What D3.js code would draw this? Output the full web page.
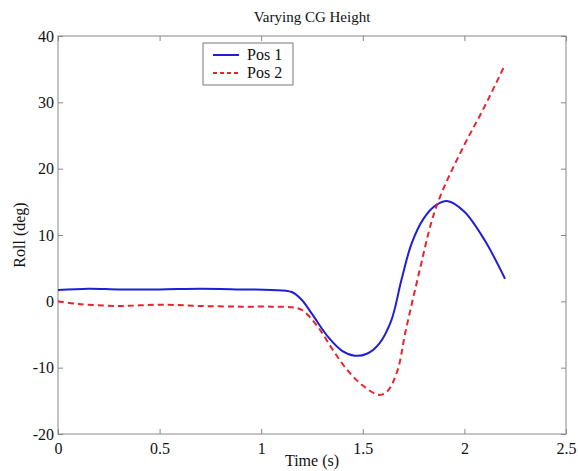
<!DOCTYPE html>
<meta charset="utf-8">
<style>
body { margin: 0; background: #fff; }
text { font-family: "Liberation Serif", "Times New Roman", serif; fill: #111; }
.axis path, .axis line { stroke: #888; }
.line { fill: none; stroke-width: 2px; }
</style>
<svg width="578" height="471"></svg>
<script src="https://d3js.org/d3.v7.min.js"></script>
<script>
// values
var time1 = [0, 0.15, 0.3, 0.5, 0.7, 0.9, 1.05, 1.15, 1.2, 1.25, 1.33, 1.4, 1.46, 1.52, 1.58, 1.64, 1.69, 1.74, 1.8, 1.86, 1.92, 2.0, 2.1, 2.2];
var pos1  = [1.7, 1.9, 1.8, 1.8, 1.9, 1.8, 1.7, 1.4, 0.2, -1.9, -5.4, -7.5, -8.2, -7.9, -6.4, -2.9, 3.2, 8.7, 12.5, 14.5, 15.1, 13.5, 9.2, 3.4];
var time2 = [0, 0.1, 0.3, 0.5, 0.7, 0.9, 1.05, 1.15, 1.2, 1.28, 1.35, 1.42, 1.5, 1.58, 1.62, 1.67, 1.71, 1.78, 1.84, 1.89, 2.0, 2.1, 2.2];
var pos2  = [0, -0.4, -0.7, -0.5, -0.7, -0.8, -0.8, -0.9, -1.3, -3.9, -7.2, -10.2, -12.7, -14.1, -13.6, -10.5, -4.6, 4.7, 12.2, 16.5, 23.6, 29.4, 35.7];
var xTicks = [0, 0.5, 1, 1.5, 2, 2.5];
var yTicks = [-20, -10, 0, 10, 20, 30, 40];

var svg = d3.select("svg"),
    margin = {top: 36, right: 12, bottom: 37, left: 58},
    width = svg.attr("width") - margin.left - margin.right,
    height = svg.attr("height") - margin.top - margin.bottom,
    g = svg.append("g").attr("transform", "translate(" + margin.left + "," + margin.top + ")");

var x = d3.scaleLinear().domain([0, 2.5]).range([0, width]),
    y = d3.scaleLinear().domain([-20, 40]).range([height, 0]);

var fmt = function(d) { return String(d); };

g.append("rect").attr("width", width).attr("height", height)
    .attr("fill", "none").attr("stroke", "#888");

g.append("g").attr("class", "axis")
    .attr("transform", "translate(0," + height + ")")
    .call(d3.axisBottom(x).tickValues(xTicks).tickFormat(fmt).tickSizeInner(-5).tickSizeOuter(0).tickPadding(9))
    .call(function(a) { a.select(".domain").remove(); a.selectAll("text").style("font-size", "16px"); });
g.append("g").attr("class", "axis")
    .call(d3.axisTop(x).tickValues(xTicks).tickSizeInner(-5).tickSizeOuter(0).tickFormat(""))
    .call(function(a) { a.select(".domain").remove(); });
g.append("g").attr("class", "axis")
    .call(d3.axisLeft(y).tickValues(yTicks).tickFormat(fmt).tickSizeInner(-5).tickSizeOuter(0).tickPadding(4))
    .call(function(a) { a.select(".domain").remove(); a.selectAll("text").style("font-size", "16px"); });
g.append("g").attr("class", "axis")
    .attr("transform", "translate(" + width + ",0)")
    .call(d3.axisRight(y).tickValues(yTicks).tickSizeInner(-5).tickSizeOuter(0).tickFormat(""))
    .call(function(a) { a.select(".domain").remove(); });

var line = d3.line()
    .curve(d3.curveCatmullRom)
    .x(function(d) { return x(d[0]); })
    .y(function(d) { return y(d[1]); });

g.append("path").attr("class", "line")
    .attr("d", line(d3.zip(time1, pos1)))
    .attr("stroke", "#1f1fd6");
g.append("path").attr("class", "line")
    .attr("d", line(d3.zip(time2, pos2)))
    .attr("stroke", "#e8232f")
    .attr("stroke-dasharray", "6,4");

// legend
var leg = svg.append("g").attr("transform", "translate(203,43)");
leg.append("rect").attr("width", 90).attr("height", 42)
    .attr("fill", "#fff").attr("stroke", "#777");
leg.append("line").attr("x1", 10).attr("x2", 36).attr("y1", 12).attr("y2", 12)
    .attr("stroke", "#1f1fd6").attr("stroke-width", 2);
leg.append("line").attr("x1", 10).attr("x2", 36).attr("y1", 30).attr("y2", 30)
    .attr("stroke", "#e8232f").attr("stroke-width", 2).attr("stroke-dasharray", "4,3");
leg.append("text").attr("x", 44).attr("y", 17).style("font-size", "16px").text("Pos 1");
leg.append("text").attr("x", 44).attr("y", 35).style("font-size", "16px").text("Pos 2");

svg.append("text").attr("x", margin.left + width / 2).attr("y", 22)
    .attr("text-anchor", "middle").style("font-size", "15px").text("Varying CG Height");
svg.append("text").attr("x", margin.left + width / 2).attr("y", 466)
    .attr("text-anchor", "middle").style("font-size", "16px").text("Time (s)");
svg.append("text").attr("transform", "translate(25," + (margin.top + height / 2) + ") rotate(-90)")
    .attr("text-anchor", "middle").style("font-size", "16px").text("Roll (deg)");
</script>
